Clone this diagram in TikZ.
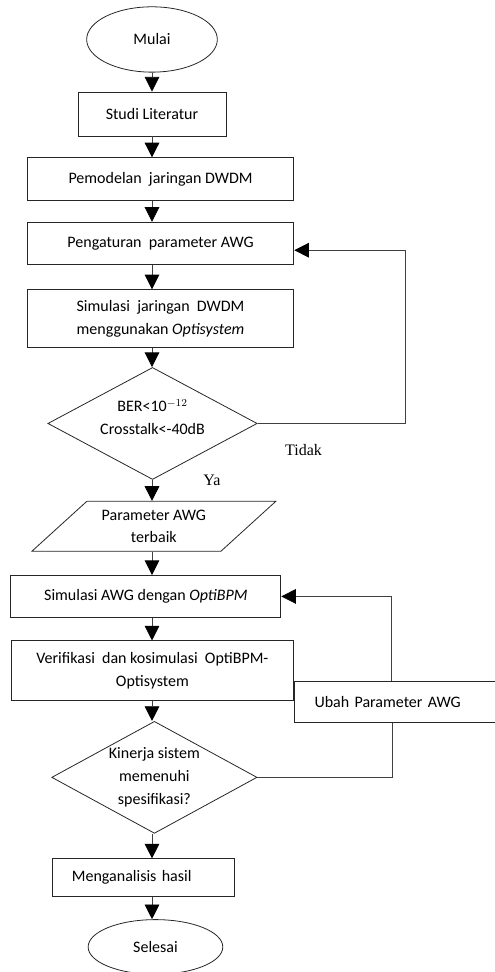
\documentclass[tikz,border=0pt]{standalone}
\usepackage{fontspec}
\setmainfont{Carlito}
\newfontfamily\timesfont{Liberation Serif}
\usepackage{tikz}
\usetikzlibrary{arrows.meta, shapes.geometric, positioning, calc}

\begin{document}
\begin{tikzpicture}[
    node distance = 15pt,
    every node/.style = {font=\fontsize{12}{17}\selectfont},
    box/.style    = {draw=black!85, line width=0.6pt, align=center, inner sep=2pt},
    term/.style   = {draw=black!85, line width=0.6pt, ellipse, inner sep=0pt},
    decide/.style = {draw=black!85, line width=0.6pt, diamond, aspect=1.85,
                     inner sep=0pt, align=center},
    io/.style     = {draw=black!85, line width=0.6pt, trapezium,
                     trapezium left angle=35, trapezium right angle=145,
                     trapezium stretches body=true, align=center, inner sep=2pt},
    arr/.style    = {-{Triangle[length=11pt, width=11pt, black]}, line width=0.6pt,
                     draw=black!75},
    link/.style   = {line width=0.6pt, draw=black!75},
    lbl/.style    = {font=\timesfont\fontsize{12}{14}\selectfont},
  ]
  \useasboundingbox (0,0) rectangle (370.5pt,-729pt);

  %% Start and first steps
  \node[term, minimum width=98pt, minimum height=49pt] (mulai) at (114pt,-29.6pt) {Mulai};
  \node[box, below=14.25pt of mulai, minimum width=111pt, minimum height=33pt] (studi) {Studi Literatur};
  \node[box, below=15.75pt of studi, xshift=6.4pt, minimum width=200pt,
        minimum height=32pt] (model) {Pemodelan\ \ jaringan DWDM};
  \node[box, below=15.75pt of model, minimum width=200pt,
        minimum height=32pt] (atur) {Pengaturan\ \ parameter AWG};
  \node[box, below=18pt of atur, minimum width=200pt,
        minimum height=43.5pt] (sim) {Simulasi\ \ jaringan\ \ DWDM\\menggunakan \textit{Optisystem}};

  %% First decision
  \node[decide, below=14.25pt of sim, xshift=-6pt, minimum width=157pt,
        minimum height=84pt] (ber) {BER<10$^{-12}$\\Crosstalk<-40dB\\[-7pt]\mbox{}};
  \coordinate[right=111pt of ber.east] (tk);
  \node[lbl] (tidak) at ([xshift=34.5pt, yshift=-20pt]ber.east) {Tidak};
  \node[lbl] (ya) at ([xshift=44.6pt, yshift=0pt]ber.south) {Ya};

  %% Best parameters and AWG simulation
  \node[io, below=15.75pt of ber, xshift=1pt, minimum width=183pt,
        minimum height=37.5pt] (param) {Parameter AWG\\terbaik};
  \node[box, below=17.5pt of param, xshift=-6pt, minimum width=202.5pt,
        minimum height=31.5pt] (awg) {Simulasi AWG dengan \textit{OptiBPM}};
  \node[box, below=17pt of awg, xshift=4.9pt, minimum width=212pt,
        minimum height=45pt] (verif) {Verifikasi\ \ dan kosimulasi\ \ OptiBPM-\\Optisystem};
  \node[box, anchor=north west, minimum width=165pt, minimum height=31pt,
        text width=135pt, align=left, inner xsep=15pt] (ubah)
        at ([yshift=-7.5pt]verif.east) {Ubah Parameter AWG};

  %% Second decision and end
  \node[decide, below=14.75pt of verif, xshift=1.5pt, minimum width=154pt,
        minimum height=84pt] (kin) {Kinerja sistem\\memenuhi\\spesifikasi?};
  \node[box, below=18.5pt of kin, xshift=-8.6pt, minimum width=136.5pt,
        minimum height=28pt, text width=106.5pt, align=left, inner xsep=15pt] (hasil) {Menganalisis hasil};
  \node[term, below=17pt of hasil, xshift=9.4pt, minimum width=101pt,
        minimum height=41pt] (selesai) {Selesai};

  %% Main flow
  \foreach \a/\b in {mulai/studi, studi/model, model/atur, atur/sim, sim/ber,
                     ber/param, param/awg, awg/verif, verif/kin, kin/hasil, hasil/selesai}
    \draw[arr] (\a.south -| mulai) -- (\b.north -| mulai);

  %% Feedback loops
  \draw[arr] (ber.east) -- (tk) |- ([yshift=-5pt]atur.east);
  \draw[arr] ([xshift=72.75pt]ubah.north west) |- (awg.east);
  \draw[link] (kin.east) -| ([xshift=73.5pt]ubah.south west);

\end{tikzpicture}
\end{document}
